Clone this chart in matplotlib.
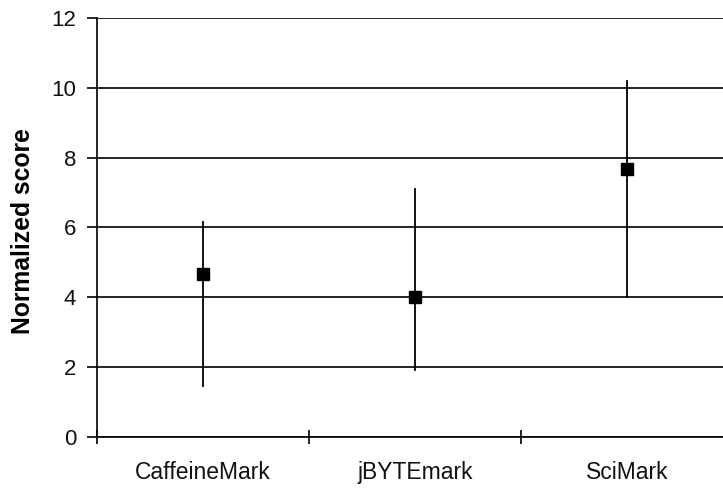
import matplotlib
matplotlib.use("Agg")
import matplotlib.pyplot as plt
from matplotlib.ticker import FixedLocator, NullFormatter, FixedFormatter

categories = ["CaffeineMark", "jBYTEmark", "SciMark"]
means = [4.66, 4.0, 7.67]
upper = [6.17, 7.1, 10.2]
lower = [1.47, 1.92, 4.0]
yticks = [0, 2, 4, 6, 8, 10, 12]

plt.rcParams['font.family'] = ['Liberation Sans', 'DejaVu Sans']

fig = plt.figure(figsize=(7.23, 4.92), dpi=100)
ax = fig.add_axes([97/723, 1-437/492, 636/723, 419/492])

x = [i + 0.5 for i in range(len(categories))]
for xi, lo, hi in zip(x, lower, upper):
    ax.plot([xi, xi], [lo, hi], color='black', lw=1.3, zorder=3)
ax.plot(x, means, linestyle='none', marker='s', markersize=9, color='black', zorder=4)

ax.set_xlim(0, 3)
ax.set_ylim(0, 12)
ax.set_yticks(yticks)
ax.set_yticklabels([str(v) for v in yticks])
ax.yaxis.grid(True, color='black', lw=1.2)
ax.set_axisbelow(True)

ax.xaxis.set_major_locator(FixedLocator([0, 1, 2, 3]))
ax.xaxis.set_major_formatter(NullFormatter())
ax.xaxis.set_minor_locator(FixedLocator(x))
ax.xaxis.set_minor_formatter(FixedFormatter(categories))
ax.tick_params(axis='x', which='major', direction='inout', length=10, width=1.2, color='black')
ax.tick_params(axis='x', which='minor', length=0, pad=17, labelsize=16.5, labelcolor='#111111')
ax.tick_params(axis='y', direction='out', length=7, width=1.2, pad=8, labelsize=16, labelcolor='#111111')

for s in ['top', 'right']:
    ax.spines[s].set_visible(False)
for s in ['left', 'bottom']:
    ax.spines[s].set_linewidth(1.2)
    ax.spines[s].set_color('black')

ax.set_ylabel("Normalized score", fontsize=17.8, fontweight='bold')
ax.yaxis.set_label_coords(-0.0975, 0.4905)

fig.savefig("out.png", dpi=100)
